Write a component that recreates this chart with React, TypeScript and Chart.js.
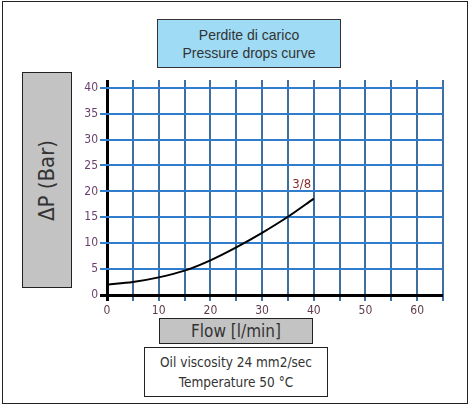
import React, { useEffect, useRef } from "react";
import { Chart, registerables } from "chart.js";

Chart.register(...registerables);

// ---- data ----
const seriesLabel = "3/8";
const flow = [0, 5, 10, 15, 20, 25, 30, 35, 40];
const pressure = [2.0, 2.5, 3.4, 4.7, 6.7, 9.2, 12.0, 15.1, 18.6];

const xMin = 0;
const xMax = 65;
const xStep = 5;
const xLabelStep = 10;
const xLabelMax = 60;

const yMin = 0;
const yMax = 40;
const yStep = 5;

const titleLines = ["Perdite di carico", "Pressure drops curve"];
const yTitle = "ΔP (Bar)";
const xTitle = "Flow [l/min]";
const noteLines = ["Oil viscosity 24 mm2/sec", "Temperature 50 °C"];

const narrow = '"Liberation Sans Narrow", "DejaVu Sans Condensed", "Roboto", sans-serif';

const labelPlugin = {
  id: "seriesLabel",
  afterDatasetsDraw(chart: any) {
    const meta = chart.getDatasetMeta(0);
    const last = meta.data[meta.data.length - 1];
    if (!last) return;
    const ctx = chart.ctx;
    ctx.save();
    ctx.font = `13px ${narrow}`;
    ctx.fillStyle = "#8a2b2b";
    ctx.textAlign = "center";
    ctx.textBaseline = "bottom";
    ctx.fillText(seriesLabel, last.x - 12, last.y - 8);
    ctx.restore();
  },
};

export default function App() {
  const ref = useRef<HTMLCanvasElement | null>(null);

  useEffect(() => {
    if (!ref.current) return;
    const chart = new Chart(ref.current, {
      type: "line",
      data: {
        datasets: [
          {
            label: seriesLabel,
            data: flow.map((f, i) => ({ x: f, y: pressure[i] })),
            borderColor: "#000",
            borderWidth: 2,
            pointRadius: 0,
            cubicInterpolationMode: "monotone",
            fill: false,
          },
        ],
      },
      options: {
        animation: false,
        responsive: false,
        devicePixelRatio: 1,
        layout: { padding: { left: 0, right: 27, top: 80, bottom: 0 } },
        plugins: { legend: { display: false }, tooltip: { enabled: false }, title: { display: false } },
        scales: {
          x: {
            type: "linear",
            min: xMin,
            max: xMax,
            afterFit: (s: any) => {
              s.height = 110;
            },
            border: { display: false },
            grid: {
              color: (c: any) => (c.tick && c.tick.value === 0 ? "#000" : "#3f6e9f"),
              lineWidth: (c: any) => (c.tick && c.tick.value === 0 ? 3 : 2),
              tickLength: 6,
              drawTicks: true,
            },
            ticks: {
              stepSize: xStep,
              autoSkip: false,
              maxRotation: 0,
              padding: 3,
              color: "#5e3b4c",
              font: { family: narrow, size: 12 },
              callback: (v: any) => (v % xLabelStep === 0 && v <= xLabelMax ? String(v) : ""),
            },
          },
          y: {
            type: "linear",
            min: yMin,
            max: yMax + 1.5,
            afterFit: (s: any) => {
              s.width = 107;
            },
            border: { display: false },
            grid: {
              color: (c: any) => (c.tick && c.tick.value === 0 ? "#000" : "#2f7dcc"),
              lineWidth: (c: any) => (c.tick && c.tick.value === 0 ? 3 : 2),
              tickLength: 7,
              drawTicks: true,
            },
            ticks: {
              stepSize: yStep,
              includeBounds: false,
              autoSkip: false,
              padding: 2,
              color: "#6a3f6e",
              font: { family: narrow, size: 12 },
              callback: (v: any) => (v <= yMax ? String(v) : ""),
            },
          },
        },
      },
      plugins: [labelPlugin],
    });
    return () => chart.destroy();
  }, []);

  const box: React.CSSProperties = {
    position: "absolute",
    boxSizing: "border-box",
    display: "flex",
    flexDirection: "column",
    alignItems: "center",
    justifyContent: "center",
    color: "#333",
  };

  return (
    <div style={{ position: "fixed", left: 0, top: 0, width: 470, height: 405, background: "#fff", overflow: "hidden" }}>
      <div
        style={{
          position: "absolute",
          left: 2,
          top: 1,
          width: 466,
          height: 403,
          boxSizing: "border-box",
          border: "1.5px solid #222",
        }}
      />
      <canvas ref={ref} width={470} height={405} style={{ position: "absolute", left: 0, top: 0, width: 470, height: 405 }} />
      <div
        style={{
          ...box,
          left: 157,
          top: 19,
          width: 184,
          height: 49,
          background: "#9fdbf5",
          border: "1px solid #333",
          fontFamily: '"Liberation Sans", Arial, sans-serif',
          fontSize: 14,
          lineHeight: "18px",
        }}
      >
        {titleLines.map((t) => (
          <div key={t}>{t}</div>
        ))}
      </div>
      <div
        style={{
          ...box,
          left: 22,
          top: 72,
          width: 50,
          height: 216,
          background: "#c3c3c3",
          border: "1px solid #222",
        }}
      >
        <div
          style={{
            transform: "rotate(-90deg)",
            whiteSpace: "nowrap",
            fontFamily: narrow,
            fontSize: 22,
            color: "#333",
          }}
        >
          {yTitle}
        </div>
      </div>
      <div
        style={{
          ...box,
          left: 159,
          top: 318,
          width: 154,
          height: 26,
          background: "#c3c3c3",
          border: "1px solid #222",
          fontFamily: narrow,
          fontSize: 17,
          whiteSpace: "nowrap",
        }}
      >
        {xTitle}
      </div>
      <div
        style={{
          ...box,
          left: 144,
          top: 347,
          width: 184,
          height: 50,
          background: "#fff",
          border: "1px solid #222",
          fontFamily: narrow,
          fontSize: 13.5,
          lineHeight: "20px",
          whiteSpace: "nowrap",
        }}
      >
        {noteLines.map((t) => (
          <div key={t}>{t}</div>
        ))}
      </div>
    </div>
  );
}
